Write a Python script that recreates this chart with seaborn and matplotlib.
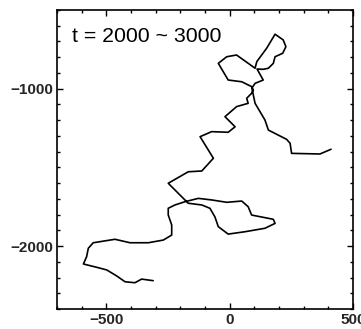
import matplotlib
matplotlib.use("Agg")
import matplotlib.pyplot as plt
from matplotlib.ticker import MultipleLocator
import seaborn as sns
import pandas as pd

# trajectory (x, y), in drawing order
x_vals = [-310, -357, -384, -424, -458, -498, -539, -593, -580, -573, -553, -465, -404, -330,
          -269, -235, -235, -249, -249, -222, -181, -127, -73, -12, 49, 75, 89, 177, 184, 143,
          62, -6, -46, -60, -80, -113, -168, -249, -168, -113, -66, -120, -73, -6, 22, -19,
          28, 75, 69, 89, 96, 89, 49, -6, -26, -46, -12, 28, 103, 110, 150, 184, 217, 228,
          215, 184, 177, 157, 136, 111, 136, 103, 90, 93, 103, 123, 143, 157, 231, 245, 251,
          366, 411]
y_vals = [-2220, -2210, -2233, -2227, -2190, -2152, -2135, -2114, -2068, -2014, -1979, -1957,
          -1979, -1979, -1962, -1930, -1866, -1803, -1760, -1739, -1718, -1697, -1707, -1722,
          -1714, -1750, -1803, -1830, -1856, -1887, -1909, -1924, -1877, -1814, -1760, -1739,
          -1728, -1601, -1528, -1523, -1442, -1305, -1273, -1277, -1242, -1178, -1114, -1093,
          -1061, -1029, -1008, -987, -956, -945, -892, -839, -797, -786, -870, -828, -743,
          -654, -690, -733, -775, -797, -839, -870, -877, -875, -945, -966, -996, -1019,
          -1093, -1146, -1199, -1263, -1322, -1347, -1411, -1415, -1385]
x_ticks = [-500, 0, 500]
y_ticks = [-1000, -2000]
title_text = "t = 2000 ~ 3000"

df = pd.DataFrame({"x": x_vals, "y": y_vals, "step": range(len(x_vals))})

sns.set_style("ticks")
plt.rcParams["font.family"] = ["Liberation Sans", "DejaVu Sans"]
plt.rcParams["axes.unicode_minus"] = True

fig = plt.figure(figsize=(3.61, 3.29), dpi=100)
ax = fig.add_axes([57 / 361, 1 - 309 / 329, 296 / 361, 299 / 329])

sns.lineplot(data=df, x="x", y="y", sort=False, estimator=None, color="black",
             linewidth=1.2, ax=ax)

ax.set_xlim(-700, 500)
ax.set_ylim(-2400, -500)
ax.set_xticks(x_ticks)
ax.set_yticks(y_ticks)
ax.xaxis.set_minor_locator(MultipleLocator(100))
ax.yaxis.set_minor_locator(MultipleLocator(100))
ax.tick_params(which="both", direction="in", top=True, right=True, color="black",
               width=1.0, pad=3)
ax.tick_params(which="major", length=4.5)
ax.tick_params(which="minor", length=2.5)
for lab in ax.get_xticklabels() + ax.get_yticklabels():
    lab.set_fontfamily(["Liberation Sans Narrow", "Liberation Sans", "DejaVu Sans"])
    lab.set_fontweight("bold")
    lab.set_fontsize(11)
for s in ax.spines.values():
    s.set_visible(True)
    s.set_linewidth(1.2)
    s.set_color("black")
ax.set_xlabel("")
ax.set_ylabel("")
ax.text(0.05, 0.913, title_text, transform=ax.transAxes, fontsize=15.3, va="center",
        ha="left", color="black")

fig.savefig("out.png", dpi=100)
